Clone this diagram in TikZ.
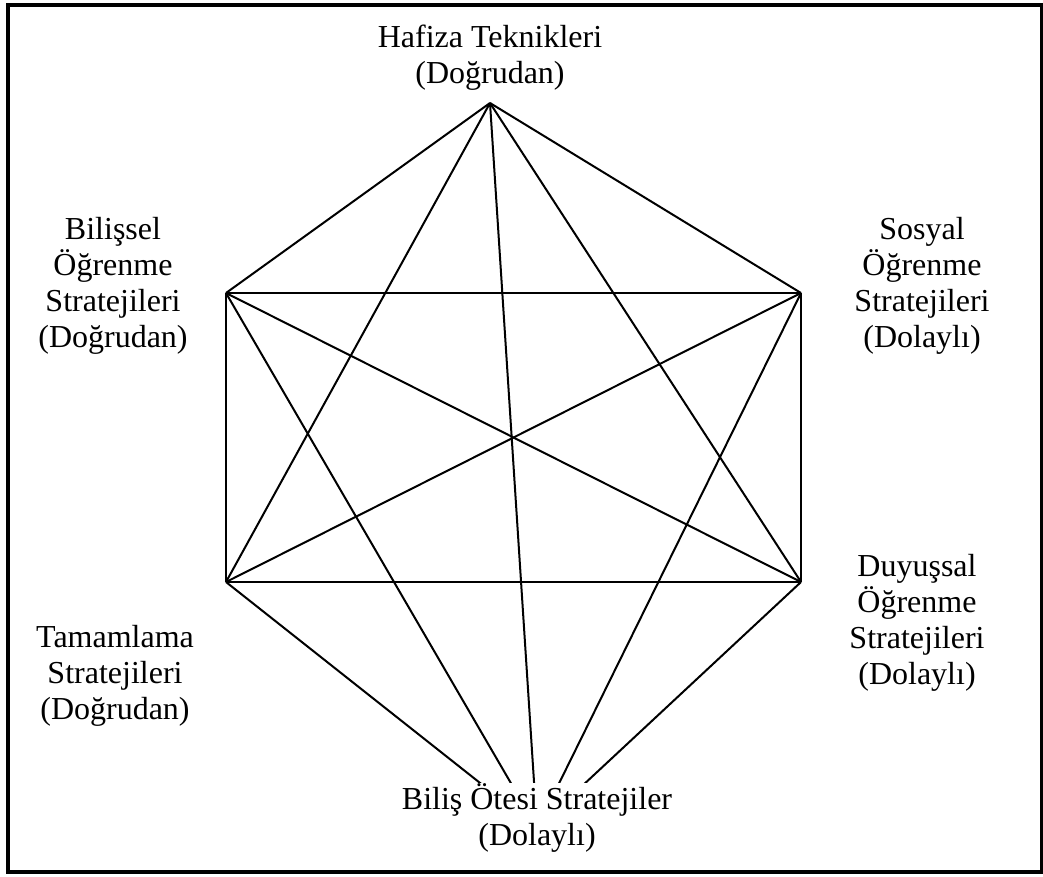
\documentclass[tikz,border=0pt]{standalone}
\usepackage{fontspec}
\setmainfont{Liberation Serif}
\begin{document}
\begin{tikzpicture}[x=1pt,y=-1pt,
  edge/.style={line width=2pt, line join=round},
  lab/.style={font=\fontsize{32}{36}\selectfont, align=center, fill=white, inner sep=1pt}]
\useasboundingbox (0,0) rectangle (1043,876);
\fill[white] (0,0) rectangle (1043,876);
\draw[line width=4pt] (8,5) rectangle (1042,872);
\coordinate (T) at (490,103);
\coordinate (UL) at (226,293);
\coordinate (UR) at (801,293);
\coordinate (LL) at (226,582);
\coordinate (LR) at (801,582);
\coordinate (B) at (537,828);
\foreach \a/\b in {T/UL,T/UR,T/LL,T/LR,T/B,UL/UR,UL/LL,UL/LR,UL/B,UR/LL,UR/LR,UR/B,LL/LR,LL/B,LR/B}
  \draw[edge] (\a) -- (\b);
\node[lab] (lt) at (490,58) {Hafiza Teknikleri\\(Doğrudan)};
\node[lab] (lul) at (113,286) {Bilişsel\\Öğrenme\\Stratejileri\\(Doğrudan)};
\node[lab] (lur) at (922,286) {Sosyal\\Öğrenme\\Stratejileri\\(Dolaylı)};
\node[lab] (llr) at (917,623) {Duyuşsal\\Öğrenme\\Stratejileri\\(Dolaylı)};
\node[lab] (lll) at (115,676) {Tamamlama\\Stratejileri\\(Doğrudan)};
\node[lab] (lb) at (537,818) {Biliş Ötesi Stratejiler\\(Dolaylı)};
\end{tikzpicture}
\end{document}
